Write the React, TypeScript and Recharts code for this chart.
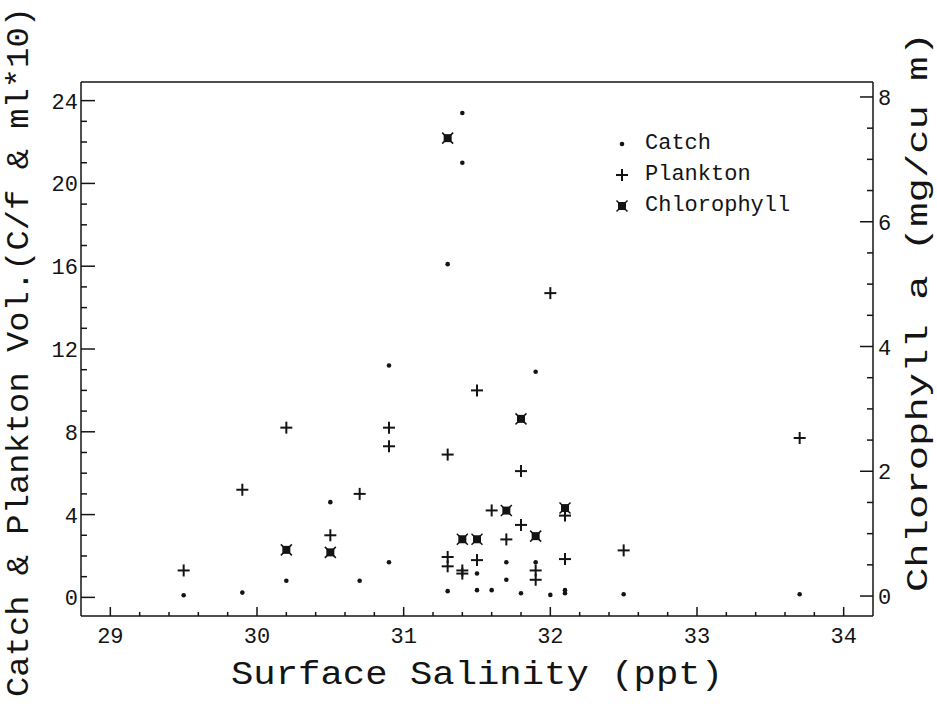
import React from "react";
import { ScatterChart, Scatter, XAxis, YAxis, Label } from "recharts";

// salinity (ppt) vs catch / plankton (left axis) and chlorophyll (right axis)
const catchData = [
  { x: 29.5, y: 0.1 }, { x: 29.9, y: 0.23 }, { x: 30.2, y: 0.8 }, { x: 30.5, y: 4.6 },
  { x: 30.7, y: 0.8 }, { x: 30.9, y: 11.2 }, { x: 30.9, y: 1.7 }, { x: 31.3, y: 16.1 },
  { x: 31.3, y: 0.3 }, { x: 31.4, y: 23.4 }, { x: 31.4, y: 21.0 }, { x: 31.5, y: 1.15 },
  { x: 31.5, y: 0.35 }, { x: 31.6, y: 0.35 }, { x: 31.7, y: 1.7 }, { x: 31.7, y: 0.85 },
  { x: 31.8, y: 0.2 }, { x: 31.9, y: 10.9 }, { x: 31.9, y: 1.7 }, { x: 32.0, y: 0.12 },
  { x: 32.1, y: 0.2 }, { x: 32.1, y: 0.35 }, { x: 32.5, y: 0.15 }, { x: 33.7, y: 0.15 },
];

const planktonData = [
  { x: 29.5, y: 1.3 }, { x: 29.9, y: 5.2 }, { x: 30.2, y: 8.2 }, { x: 30.5, y: 3.0 },
  { x: 30.7, y: 5.0 }, { x: 30.9, y: 8.2 }, { x: 30.9, y: 7.3 }, { x: 31.3, y: 6.9 },
  { x: 31.3, y: 1.95 }, { x: 31.3, y: 1.5 }, { x: 31.4, y: 1.3 }, { x: 31.4, y: 1.15 },
  { x: 31.5, y: 10.0 }, { x: 31.5, y: 1.8 }, { x: 31.6, y: 4.2 }, { x: 31.7, y: 2.8 },
  { x: 31.8, y: 6.1 }, { x: 31.8, y: 3.5 }, { x: 31.9, y: 1.3 }, { x: 31.9, y: 0.85 },
  { x: 32.0, y: 14.7 }, { x: 32.1, y: 3.95 }, { x: 32.1, y: 1.85 }, { x: 32.5, y: 2.27 },
  { x: 33.7, y: 7.7 },
];

const chlorophyllData = [
  { x: 30.2, y: 0.74 }, { x: 30.5, y: 0.7 }, { x: 31.3, y: 7.34 }, { x: 31.4, y: 0.91 },
  { x: 31.5, y: 0.91 }, { x: 31.7, y: 1.37 }, { x: 31.8, y: 2.84 }, { x: 31.9, y: 0.96 },
  { x: 32.1, y: 1.41 },
];

const xMajor = [29, 30, 31, 32, 33, 34];
const xTicks = [
  29, 29.2, 29.4, 29.6, 29.8, 30, 30.2, 30.4, 30.6, 30.8, 31, 31.2, 31.4, 31.6, 31.8,
  32, 32.2, 32.4, 32.6, 32.8, 33, 33.2, 33.4, 33.6, 33.8, 34,
];
const leftMajor = [0, 4, 8, 12, 16, 20, 24];
const leftTicks = [
  0, 1, 2, 3, 4, 5, 6, 7, 8, 9, 10, 11, 12, 13, 14, 15, 16, 17, 18, 19, 20, 21, 22, 23, 24,
];
const rightMajor = [0, 2, 4, 6, 8];
const rightTicks = [0, 0.5, 1, 1.5, 2, 2.5, 3, 3.5, 4, 4.5, 5, 5.5, 6, 6.5, 7, 7.5, 8];

const INK = "#141414";
const FONT = "'Liberation Mono', 'DejaVu Sans Mono', monospace";

const isMajor = (list: number[], v: number) => list.some((m) => Math.abs(m - v) < 1e-6);

const BottomTick = ({ x, y, payload }: any) => {
  const major = isMajor(xMajor, payload.value);
  return (
    <g>
      <line x1={x} x2={x} y1={y} y2={y - (major ? 9 : 4)} stroke={INK} strokeWidth={1.5} />
      {major && (
        <text x={x} y={y + 27} textAnchor="middle" fontSize={22} fontFamily={FONT} fill={INK}>
          {payload.value}
        </text>
      )}
    </g>
  );
};

const TopTick = ({ x, y, payload }: any) => {
  const major = isMajor(xMajor, payload.value);
  return <line x1={x} x2={x} y1={y} y2={y + (major ? 9 : 4)} stroke={INK} strokeWidth={1.5} />;
};

const LeftTick = ({ x, y, payload }: any) => {
  const major = isMajor(leftMajor, payload.value);
  return (
    <g>
      <line x1={x} x2={x + (major ? 14 : 6)} y1={y} y2={y} stroke={INK} strokeWidth={1.5} />
      {major && (
        <text x={x - 3} y={y + 8} textAnchor="end" fontSize={22} fontFamily={FONT} fill={INK}>
          {payload.value}
        </text>
      )}
    </g>
  );
};

const RightTick = ({ x, y, payload }: any) => {
  const major = isMajor(rightMajor, payload.value);
  return (
    <g>
      <line x1={x} x2={x - (major ? 13 : 6)} y1={y} y2={y} stroke={INK} strokeWidth={1.5} />
      {major && (
        <text x={x + 5} y={y + 8} textAnchor="start" fontSize={22} fontFamily={FONT} fill={INK}>
          {payload.value}
        </text>
      )}
    </g>
  );
};

const DotMark = ({ cx, cy }: any) => <circle cx={cx} cy={cy} r={2.3} fill={INK} />;

const PlusMark = ({ cx, cy }: any) => (
  <g stroke={INK} strokeWidth={2}>
    <line x1={cx - 6} x2={cx + 6} y1={cy} y2={cy} />
    <line x1={cx} x2={cx} y1={cy - 6} y2={cy + 6} />
  </g>
);

const StarMark = ({ cx, cy }: any) => (
  <g>
    <rect x={cx - 4} y={cy - 4} width={8} height={8} fill={INK} />
    <g stroke={INK} strokeWidth={1.5}>
      <line x1={cx - 5.5} x2={cx + 5.5} y1={cy - 5.5} y2={cy + 5.5} />
      <line x1={cx - 5.5} x2={cx + 5.5} y1={cy + 5.5} y2={cy - 5.5} />
    </g>
  </g>
);

const legendItems = [
  { name: "Catch", Mark: DotMark },
  { name: "Plankton", Mark: PlusMark },
  { name: "Chlorophyll", Mark: StarMark },
];

const LegendBox = () => (
  <div
    style={{
      position: "absolute",
      left: 612,
      top: 128,
      fontFamily: FONT,
      fontSize: 22,
      color: INK,
    }}
  >
    {legendItems.map(({ name, Mark }) => (
      <div key={name} style={{ display: "flex", alignItems: "center", height: 31 }}>
        <svg width={20} height={20} style={{ marginRight: 13 }}>
          <Mark cx={10} cy={10} />
        </svg>
        <span>{name}</span>
      </div>
    ))}
  </div>
);

const AXIS = 30;

export default function App() {
  return (
    <div style={{ position: "absolute", left: 0, top: 0, width: 937, height: 704, background: "#fff" }}>
      <ScatterChart
        width={937}
        height={704}
        margin={{ top: 82 - AXIS, right: 64 - AXIS, bottom: 88 - AXIS, left: 81 - AXIS }}
      >
        <XAxis
          xAxisId="bottom"
          type="number"
          dataKey="x"
          domain={[28.8, 34.2]}
          ticks={xTicks}
          interval={0}
          height={AXIS}
          tickSize={0}
          tickMargin={0}
          tickLine={false}
          tick={<BottomTick />}
          axisLine={{ stroke: INK, strokeWidth: 1.5 }}
        >
          <Label
            content={({ viewBox }: any) => (
              <text
                x={viewBox.x + viewBox.width / 2}
                y={684}
                textAnchor="middle"
                fontSize={34}
                fontFamily={FONT}
                fill={INK}
                textLength={492}
                lengthAdjust="spacingAndGlyphs"
              >
                Surface Salinity (ppt)
              </text>
            )}
          />
        </XAxis>
        <XAxis
          xAxisId="top"
          orientation="top"
          type="number"
          dataKey="x"
          domain={[28.8, 34.2]}
          ticks={xTicks}
          interval={0}
          height={AXIS}
          tickSize={0}
          tickMargin={0}
          tickLine={false}
          tick={<TopTick />}
          axisLine={{ stroke: INK, strokeWidth: 1.5 }}
        />
        <YAxis
          yAxisId="left"
          type="number"
          dataKey="y"
          domain={[-0.9, 24.9]}
          ticks={leftTicks}
          interval={0}
          width={AXIS}
          tickSize={0}
          tickMargin={0}
          tickLine={false}
          tick={<LeftTick />}
          axisLine={{ stroke: INK, strokeWidth: 1.5 }}
        >
          <Label
            content={() => (
              <text
                x={0}
                y={0}
                transform="translate(28 352) rotate(-90)"
                textAnchor="middle"
                fontSize={31}
                fontFamily={FONT}
                fill={INK}
                textLength={690}
                lengthAdjust="spacingAndGlyphs"
              >
                Catch &amp; Plankton Vol.(C/f &amp; ml*10)
              </text>
            )}
          />
        </YAxis>
        <YAxis
          yAxisId="right"
          orientation="right"
          type="number"
          dataKey="y"
          domain={[-0.32, 8.24]}
          ticks={rightTicks}
          interval={0}
          width={AXIS}
          tickSize={0}
          tickMargin={0}
          tickLine={false}
          tick={<RightTick />}
          axisLine={{ stroke: INK, strokeWidth: 1.5 }}
        >
          <Label
            content={() => (
              <text
                x={0}
                y={0}
                transform="translate(927 312) rotate(-90)"
                textAnchor="middle"
                fontSize={29}
                fontFamily={FONT}
                fill={INK}
                textLength={560}
                lengthAdjust="spacingAndGlyphs"
              >
                Chlorophyll a (mg/cu m)
              </text>
            )}
          />
        </YAxis>
        <Scatter name="Catch" data={catchData} xAxisId="bottom" yAxisId="left" shape={<DotMark />} isAnimationActive={false} />
        <Scatter name="Plankton" data={planktonData} xAxisId="bottom" yAxisId="left" shape={<PlusMark />} isAnimationActive={false} />
        <Scatter
          name="Chlorophyll"
          data={chlorophyllData}
          xAxisId="bottom"
          yAxisId="right"
          shape={<StarMark />}
          isAnimationActive={false}
        />
      </ScatterChart>
      <LegendBox />
    </div>
  );
}
